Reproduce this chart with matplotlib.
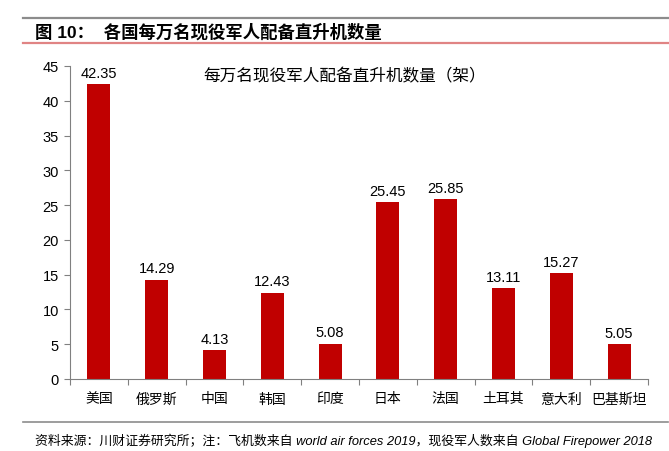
import matplotlib
matplotlib.use("Agg")
import matplotlib.pyplot as plt
from matplotlib.lines import Line2D

plt.rcParams['font.family'] = ['Liberation Sans', 'Noto Sans CJK SC', 'DejaVu Sans']

countries = ['美国', '俄罗斯', '中国', '韩国', '印度', '日本', '法国', '土耳其', '意大利', '巴基斯坦']
values = [42.35, 14.29, 4.13, 12.43, 5.08, 25.45, 25.85, 13.11, 15.27, 5.05]
yticks = [0, 5, 10, 15, 20, 25, 30, 35, 40, 45]

fig = plt.figure(figsize=(6.69, 4.52), dpi=100)
ax = fig.add_axes([0.1046, 0.1593, 0.864, 0.6925])

x = list(range(len(countries)))
bars = ax.bar(x, values, width=0.4, color='#C00000')
for xi, v in zip(x, values):
    ax.text(xi, v + 0.6, f'{v:.2f}', ha='center', va='bottom', fontsize=10.5, color='#000000')

ax.set_xlim(-0.5, len(countries) - 0.5)
ax.set_ylim(0, 45)
ax.set_yticks(yticks)
ax.tick_params(axis='y', labelsize=10.5, length=4, color='#808080', pad=4)
ax.set_xticks([i - 0.5 for i in range(len(countries) + 1)])
ax.set_xticklabels([])
ax.set_xticks(x, minor=True)
ax.set_xticklabels(countries, minor=True, fontsize=10)
ax.tick_params(axis='x', which='major', length=4, color='#808080')
ax.tick_params(axis='x', which='minor', length=0, pad=9)
for s in ['top', 'right']:
    ax.spines[s].set_visible(False)
for s in ['left', 'bottom']:
    ax.spines[s].set_color('#808080')

ax.text(0.476, 0.995, '每万名现役军人配备直升机数量（架）', transform=ax.transAxes,
        ha='center', va='top', fontsize=12)

# header / footer decoration
fig.add_artist(Line2D([0.034, 0.998], [0.958, 0.958], color='#8c8c8c', lw=1.6))
fig.add_artist(Line2D([0.034, 0.998], [0.903, 0.903], color='#E08484', lw=1.6))
fig.text(0.052, 0.929, '图 10：  各国每万名现役军人配备直升机数量', fontsize=12.5,
         fontweight='bold', va='center', ha='left')
fig.add_artist(Line2D([0.034, 0.998], [0.064, 0.064], color='#8c8c8c', lw=1.2))
fig.text(0.052, 0.024, '资料来源：川财证券研究所；注：飞机数来自 world air forces 2019，现役军人数来自 Global Firepower 2018',
         fontsize=9.3, style='italic', va='center', ha='left')

fig.savefig('out.png', dpi=100)
